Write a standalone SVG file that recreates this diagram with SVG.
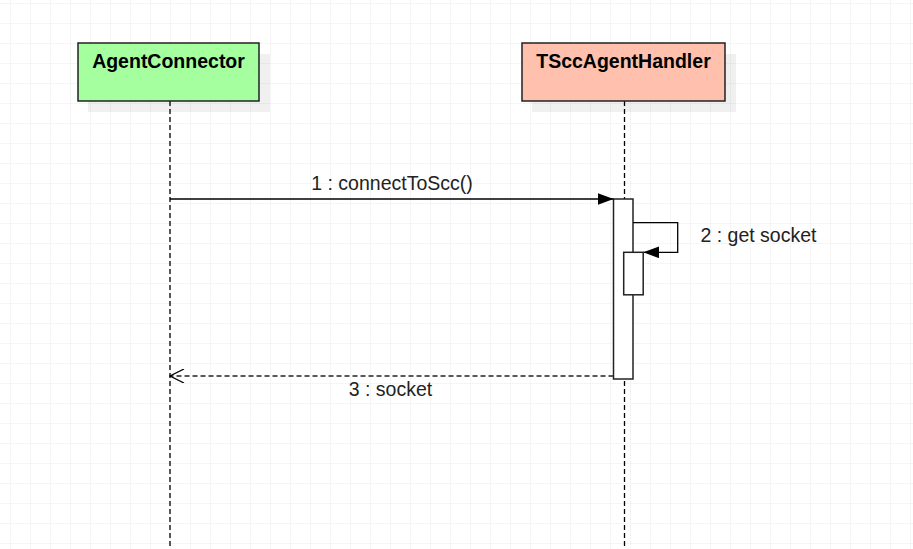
<svg xmlns="http://www.w3.org/2000/svg" width="913" height="549" viewBox="0 0 913 549">
<defs>
<pattern id="grid" x="10" y="3" width="20" height="20" patternUnits="userSpaceOnUse">
<path d="M0 0H20M0 0V20" fill="none" stroke="#ececec" stroke-width="1"/>
</pattern>
<marker id="filled" viewBox="0 0 16 12" refX="16" refY="6" markerWidth="16" markerHeight="12" markerUnits="userSpaceOnUse" orient="auto">
<path d="M0 0L16 6L0 12Z" fill="#000"/>
</marker>
<marker id="open" viewBox="0 0 16 14" refX="15" refY="7" markerWidth="16" markerHeight="14" markerUnits="userSpaceOnUse" orient="auto">
<path d="M1 0L15 7L1 14" fill="none" stroke="#000" stroke-width="1.3"/>
</marker>
</defs>
<style>
.box{stroke:#222;stroke-width:1.5}
.shadow{fill:#000;fill-opacity:0.06}
.title{font-family:"Liberation Sans",Arial,sans-serif;font-weight:bold;font-size:19.5px;fill:#000;text-anchor:middle}
.lbl{font-family:"Liberation Sans",Arial,sans-serif;font-size:19.5px;fill:#222}
.life{stroke:#000;stroke-width:1.3;stroke-dasharray:5 3;fill:none}
.msg{stroke:#000;stroke-width:1.3;fill:none}
.ret{stroke:#222;stroke-width:1.3;stroke-dasharray:5 3;fill:none}
.act{fill:#fff;stroke:#222;stroke-width:1.5}
</style>
<rect width="913" height="549" fill="#fff"/>
<rect width="913" height="549" fill="url(#grid)"/>

<g id="lifelines">
<line class="life" x1="170" y1="101" x2="170" y2="549"/>
<line class="life" x1="624.5" y1="101" x2="624.5" y2="549"/>
</g>

<g id="AgentConnector">
<rect class="shadow" x="88" y="54" width="182" height="58"/>
<rect class="box" x="78" y="43" width="181" height="58" fill="#a5ff9f"/>
<text class="title" x="168.5" y="68">AgentConnector</text>
</g>

<g id="TSccAgentHandler">
<rect class="shadow" x="532" y="54" width="204" height="58"/>
<rect class="box" x="522" y="43" width="203" height="58" fill="#ffc0ad"/>
<text class="title" x="623.5" y="68">TSccAgentHandler</text>
</g>

<g id="activation1">
<rect class="act" x="613.5" y="199" width="19.5" height="180"/>
</g>

<g id="connectors">
<line class="msg" x1="170" y1="199" x2="613.5" y2="199" marker-end="url(#filled)"/>
<text class="lbl" x="392" y="190" text-anchor="middle">1 : connectToScc()</text>
<path class="msg" d="M633 222.7H677.7V252.3H643.3" marker-end="url(#filled)"/>
<text class="lbl" x="700.5" y="242">2 : get socket</text>
<line class="ret" x1="613.5" y1="376" x2="170" y2="376" marker-end="url(#open)"/>
<text class="lbl" x="390.5" y="396" text-anchor="middle">3 : socket</text>
</g>

<g id="activation2">
<rect class="act" x="623.7" y="252.3" width="19.5" height="42.5"/>
</g>
</svg>
